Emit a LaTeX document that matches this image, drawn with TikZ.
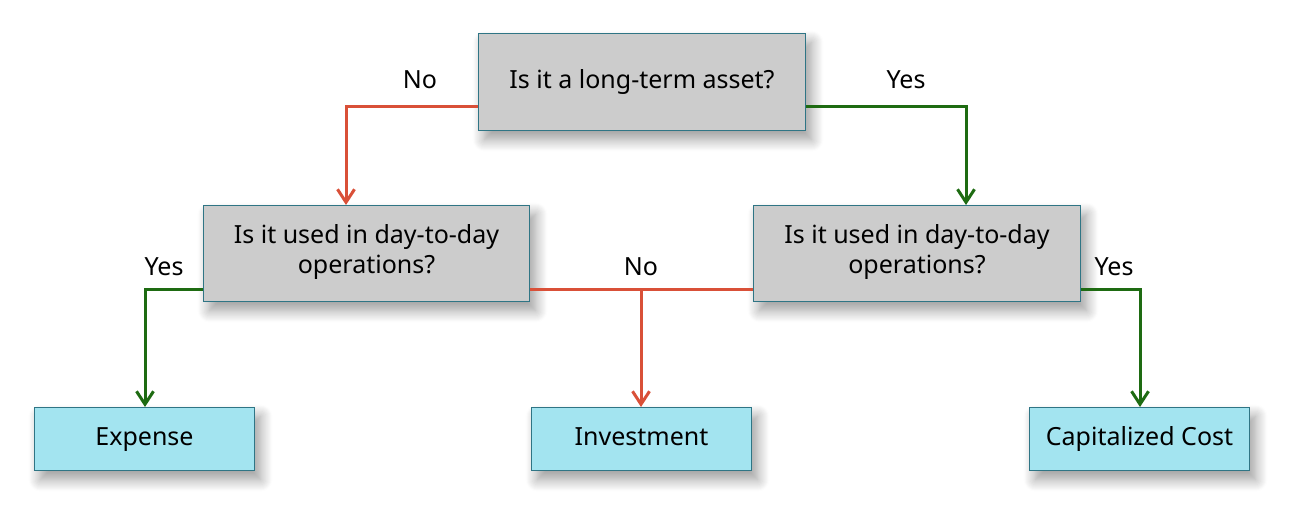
\documentclass[tikz,border=0pt]{standalone}
\usepackage{fontspec}
\setmainfont{Noto Sans}
\usetikzlibrary{arrows.meta,shadows.blur}
\definecolor{qfill}{HTML}{CCCCCC}
\definecolor{rfill}{HTML}{A3E4F0}
\definecolor{edge}{HTML}{2F7585}
\definecolor{nored}{HTML}{D95038}
\definecolor{yesgreen}{HTML}{1E6B12}
\tikzset{
  box/.style={draw=edge, line width=1pt, inner sep=0pt, anchor=north west,
    blur shadow={shadow xshift=6pt, shadow yshift=-9pt, shadow blur steps=12, shadow blur radius=12pt, shadow opacity=40},
    font=\fontsize{25}{30}\selectfont, align=center, execute at begin node=\strut},
  qbox/.style={box, fill=qfill},
  rbox/.style={box, fill=rfill},
  nolink/.style={draw=nored, line width=3pt, -{Straight Barb[length=13pt,width=17pt,line width=3pt]}},
  yeslink/.style={draw=yesgreen, line width=3pt, -{Straight Barb[length=13pt,width=17pt,line width=3pt]}},
  nolinkplain/.style={draw=nored, line width=3pt},
  lbl/.style={font=\fontsize{25}{30}\selectfont, text=black}
}
\begin{document}
\begin{tikzpicture}[x=1pt,y=-1pt]
\useasboundingbox (0,0) rectangle (1300,522);
\node[qbox, minimum width=327pt, minimum height=97pt] (top) at (478,33) {Is it a long-term asset?};
\node[qbox, minimum width=326pt, minimum height=96pt] (ml) at (203,205) {Is it used in day-to-day\\operations?};
\node[qbox, minimum width=327pt, minimum height=96pt] (mr) at (753,205) {Is it used in day-to-day\\operations?};
\node[rbox, minimum width=220pt, minimum height=63pt] (exp) at (34,407) {Expense};
\node[rbox, minimum width=220pt, minimum height=63pt] (inv) at (531,407) {Investment};
\node[rbox, minimum width=220pt, minimum height=63pt] (cap) at (1029,407) {Capitalized Cost};
% connectors
\coordinate (nojoin) at (641,289);
\draw[nolink] (top.west |- 0,106) -| (ml.north -| 346,0);
\draw[yeslink] (top.east |- 0,106) -| (mr.north -| 966,0);
\draw[yeslink] (ml.west |- 0,289) -| (exp.north -| 145,0);
\draw[nolinkplain] (ml.east |- 0,289) -- (mr.west |- 0,289);
\draw[nolink] (nojoin) -- (inv.north -| nojoin);
\draw[yeslink] (mr.east |- 0,289) -| (cap.north -| 1140,0);
% labels
\node[lbl] (l1) at (420,80) {No};
\node[lbl] (l2) at (906,80) {Yes};
\node[lbl] (l3) at (164,267) {Yes};
\node[lbl] (l4) at (641,267) {No};
\node[lbl] (l5) at (1114,267) {Yes};
\end{tikzpicture}
\end{document}
